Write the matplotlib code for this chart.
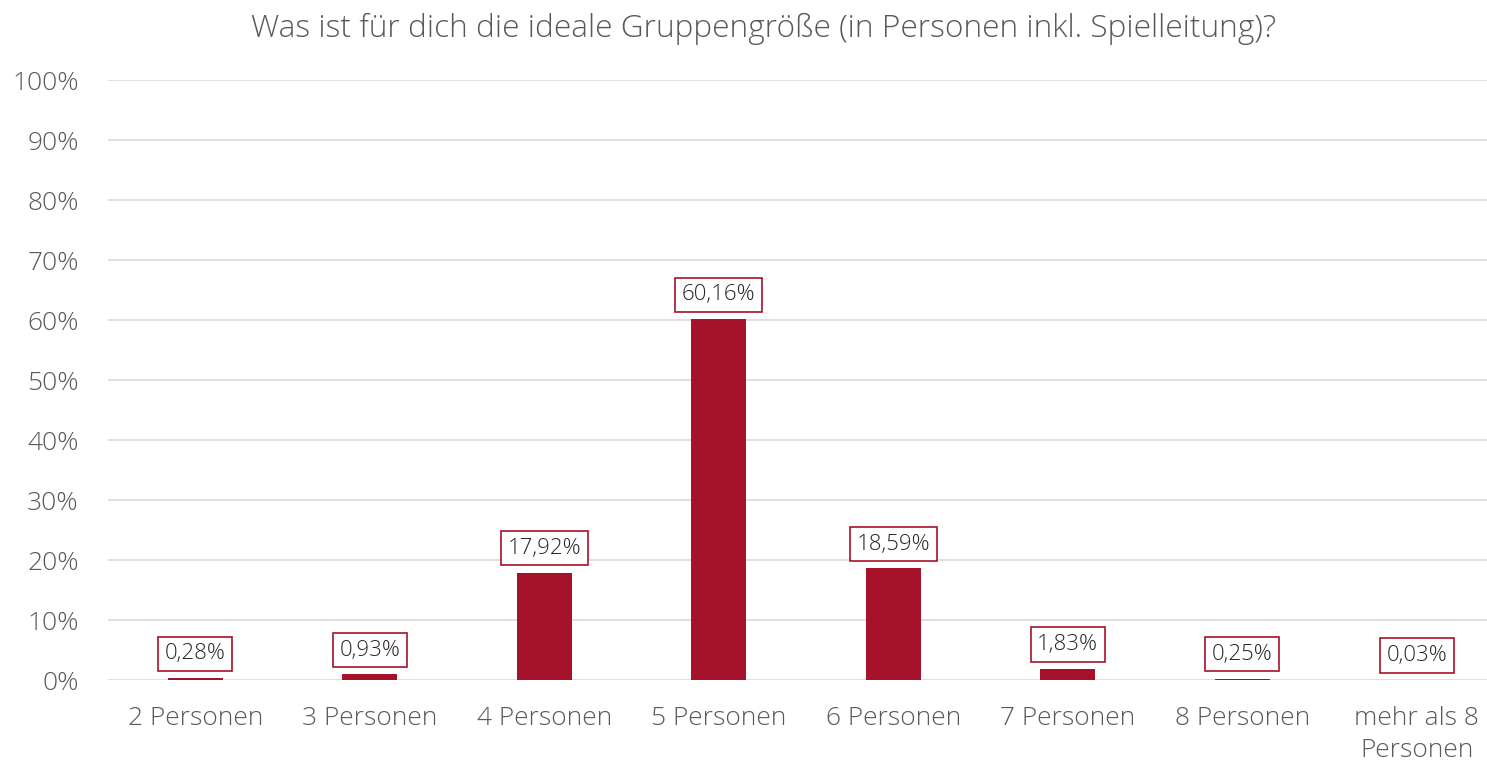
import matplotlib
matplotlib.use("Agg")
import matplotlib.pyplot as plt
from matplotlib.ticker import MultipleLocator, FuncFormatter

kategorien = ["2 Personen", "3 Personen", "4 Personen", "5 Personen",
              "6 Personen", "7 Personen", "8 Personen", "mehr als 8\nPersonen"]
anteile = [0.28, 0.93, 17.92, 60.16, 18.59, 1.83, 0.25, 0.03]
titel = "Was ist für dich die ideale Gruppengröße (in Personen inkl. Spielleitung)?"

ROT = "#A6122A"
GRAU = "#595959"

plt.rcParams["font.family"] = ["Open Sans", "DejaVu Sans"]
plt.rcParams["font.weight"] = "light"

fig = plt.figure(figsize=(14.87, 7.69), dpi=100)
ax = fig.add_axes([0.0726, 0.1157, 0.9274, 0.7802])

x = range(len(kategorien))
ax.bar(x, anteile, width=0.315, color=ROT, zorder=3)

for xi, wert in zip(x, anteile):
    ax.annotate(f"{wert:.2f}%".replace(".", ","), (xi, wert),
                xytext=(0, 10), textcoords="offset points",
                ha="center", va="bottom", fontsize=16, color="#262626",
                bbox=dict(boxstyle="square,pad=0.3", fc="white", ec=ROT, lw=1.2),
                zorder=4)

ax.set_ylim(0, 100)
ax.set_xlim(-0.5, 7.5 - (1504 - 1487) / 174.5)
ax.yaxis.set_major_locator(MultipleLocator(10))
ax.yaxis.set_major_formatter(FuncFormatter(lambda v, p: f"{v:.0f}%"))
ax.set_xticks(list(x))
ax.set_xticklabels(kategorien, linespacing=1.35)
ax.tick_params(axis="both", length=0, labelsize=19, colors=GRAU)
ax.tick_params(axis="x", pad=19)
ax.tick_params(axis="y", pad=21)
ax.grid(axis="y", color="#D9D9D9", lw=1.2, zorder=0)
for s in ax.spines.values():
    s.set_visible(False)

fig.text(0.5134, 0.962, titel, ha="center", va="center", fontsize=22.8, color=GRAU)

fig.savefig("out.png", dpi=100)
